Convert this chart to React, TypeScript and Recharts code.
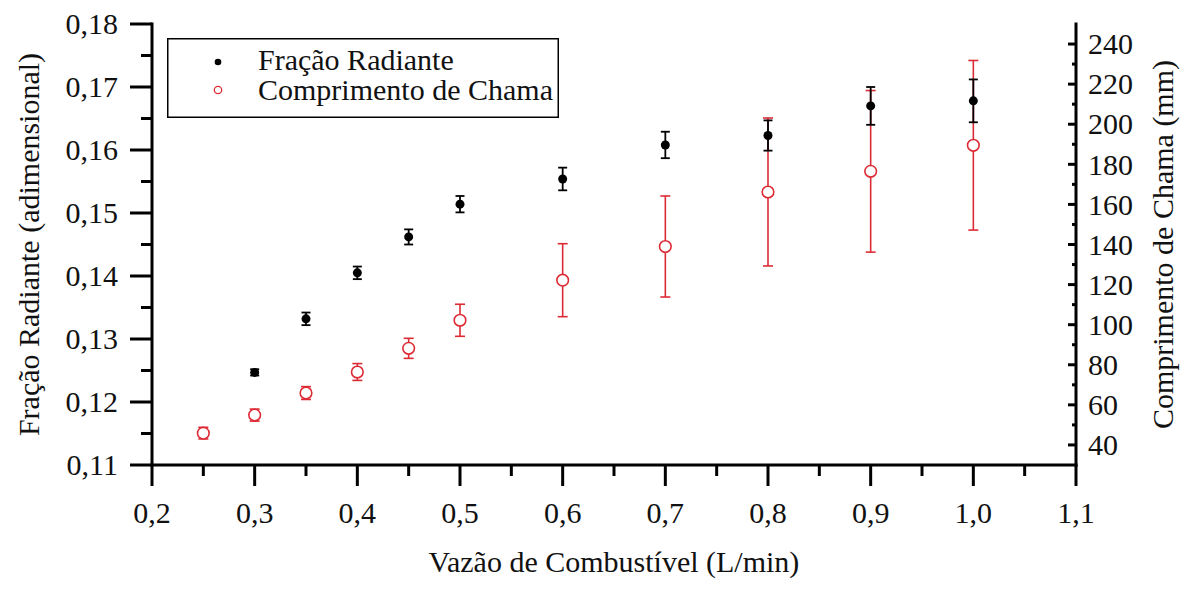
import { ComposedChart, Scatter, XAxis, YAxis, ErrorBar, Legend, Label } from 'recharts';

// Fração radiante (eixo esquerdo)
const vazaoFracao = [0.3, 0.35, 0.4, 0.45, 0.5, 0.6, 0.7, 0.8, 0.9, 1.0];
const fracaoRadiante = [0.1247, 0.1332, 0.1405, 0.1462, 0.1514, 0.1554, 0.1608, 0.1623, 0.167, 0.1678];
const fracaoErro = [0.0005, 0.001, 0.001, 0.0012, 0.0013, 0.0018, 0.0021, 0.0024, 0.003, 0.0034];

// Comprimento de chama (eixo direito)
const vazaoChama = [0.25, 0.3, 0.35, 0.4, 0.45, 0.5, 0.6, 0.7, 0.8, 0.9, 1.0];
const comprimentoChama = [45.9, 54.9, 65.9, 76.4, 88.2, 102.2, 122.2, 139, 166.2, 176.5, 189.5];
const chamaErro = [2.9, 3, 3.2, 4.2, 5, 8, 18.2, 25.2, 36.9, 40.3, 42.3];

const seriesNames = ['Fração Radiante', 'Comprimento de Chama'];

const xMajor = [0.2, 0.3, 0.4, 0.5, 0.6, 0.7, 0.8, 0.9, 1.0, 1.1];
const xMinor = [0.25, 0.35, 0.45, 0.55, 0.65, 0.75, 0.85, 0.95, 1.05];
const leftMajor = [0.11, 0.12, 0.13, 0.14, 0.15, 0.16, 0.17, 0.18];
const leftMinor = [0.115, 0.125, 0.135, 0.145, 0.155, 0.165, 0.175];
const rightMajor = [40, 60, 80, 100, 120, 140, 160, 180, 200, 220, 240];
const rightMinor = [50, 70, 90, 110, 130, 150, 170, 190, 210, 230];

const FONT = "'Liberation Serif', 'Times New Roman', serif";
const RED = '#dd2b35';
const FS = 30;

const fracaoData = vazaoFracao.map((x, i) => ({ x, y: fracaoRadiante[i], err: fracaoErro[i] }));
const chamaData = vazaoChama.map((x, i) => ({ x, y: comprimentoChama[i], err: chamaErro[i] }));

const sortTicks = (a: number[], b: number[]) => [...a, ...b].sort((p, q) => p - q);
const isMajor = (list: number[], v: number) => list.some((m) => Math.abs(m - v) < 1e-9);

const comma = (digits: number) => (v: number) => v.toFixed(digits).replace('.', ',');

function LeftTick(props: any) {
  const { x, y, payload } = props;
  const major = isMajor(leftMajor, payload.value);
  return (
    <g>
      <line x1={x} y1={y} x2={x - (major ? 22 : 11)} y2={y} stroke='#000' strokeWidth={3} />
      {major && (
        <text x={x - 34} y={y} dy='0.34em' textAnchor='end' fontFamily={FONT} fontSize={FS} fill='#111'>
          {comma(2)(payload.value)}
        </text>
      )}
    </g>
  );
}

function RightTick(props: any) {
  const { x, y, payload } = props;
  const major = isMajor(rightMajor, payload.value);
  return (
    <g>
      <line x1={x} y1={y} x2={x - (major ? 8 : 4)} y2={y} stroke='#000' strokeWidth={3} />
      {major && (
        <text x={x + 12} y={y} dy='0.34em' textAnchor='start' fontFamily={FONT} fontSize={FS} fill='#111'>
          {payload.value}
        </text>
      )}
    </g>
  );
}

function BottomTick(props: any) {
  const { x, y, payload } = props;
  const major = isMajor(xMajor, payload.value);
  return (
    <g>
      <line x1={x} y1={y} x2={x} y2={y + (major ? 21 : 11)} stroke='#000' strokeWidth={3} />
      {major && (
        <text x={x} y={y + 58} textAnchor='middle' fontFamily={FONT} fontSize={FS} fill='#111'>
          {comma(1)(payload.value)}
        </text>
      )}
    </g>
  );
}

const DotShape = (p: any) => <circle cx={p.cx} cy={p.cy} r={4.5} fill='#000' />;
const RingShape = (p: any) => (
  <circle cx={p.cx} cy={p.cy} r={5.8} fill='#fff' stroke={RED} strokeWidth={1.6} />
);

function rotatedTitle(text: string, dxFromAxis: number) {
  return (p: any) => {
    const vb = p.viewBox || { x: 0, y: 24, width: 152, height: 441 };
    const cx = vb.x + dxFromAxis;
    const cy = vb.y + vb.height / 2;
    return (
      <text
        x={cx}
        y={cy}
        textAnchor='middle'
        dominantBaseline='central'
        transform={`rotate(-90, ${cx}, ${cy})`}
        fontFamily={FONT}
        fontSize={FS}
        fill='#111'
      >
        {text}
      </text>
    );
  };
}

const bottomTitle = (p: any) => {
  const vb = p.viewBox || { x: 152, y: 465, width: 924, height: 125 };
  return (
    <text x={vb.x + vb.width / 2} y={vb.y + 107} textAnchor='middle' fontFamily={FONT} fontSize={FS} fill='#111'>
      Vazão de Combustível (L/min)
    </text>
  );
};

const renderLegend = () => (
  <svg width={392} height={80} style={{ display: 'block' }}>
    <rect x={0.75} y={0.75} width={390.5} height={78.5} fill='#fff' stroke='#000' strokeWidth={1.5} />
    <circle cx={51} cy={24} r={3.3} fill='#000' />
    <circle cx={51} cy={52} r={3.7} fill='#fff' stroke={RED} strokeWidth={1.3} />
    <text x={91} y={32} fontFamily={FONT} fontSize={FS} fill='#111'>
      {seriesNames[0]}
    </text>
    <text x={91} y={62} fontFamily={FONT} fontSize={FS} fill='#111'>
      {seriesNames[1]}
    </text>
  </svg>
);

export default function App() {
  return (
    <div style={{ position: 'absolute', left: 0, top: 0, background: '#fff' }}>
      <ComposedChart width={1184} height={590} margin={{ top: 24, right: 0, bottom: 0, left: 0 }}>
        <XAxis
          xAxisId='x'
          dataKey='x'
          type='number'
          domain={[0.2, 1.1]}
          ticks={sortTicks(xMajor, xMinor)}
          interval={0}
          height={125}
          tickSize={0}
          tickMargin={0}
          tick={BottomTick}
          axisLine={{ stroke: '#000', strokeWidth: 3, strokeLinecap: 'square' }}
          allowDataOverflow
        >
          <Label content={bottomTitle} />
        </XAxis>
        <XAxis
          xAxisId='top'
          orientation='top'
          type='number'
          domain={[0.2, 1.1]}
          height={0}
          tick={false}
          tickLine={false}
          axisLine={{ stroke: '#000', strokeWidth: 3, strokeLinecap: 'square' }}
        />
        <YAxis
          yAxisId='left'
          type='number'
          domain={[0.11, 0.18]}
          ticks={sortTicks(leftMajor, leftMinor)}
          interval={0}
          width={152}
          tickSize={0}
          tickMargin={0}
          tick={LeftTick}
          axisLine={{ stroke: '#000', strokeWidth: 3, strokeLinecap: 'square' }}
          allowDataOverflow
        >
          <Label content={rotatedTitle('Fração Radiante (adimensional)', 28)} />
        </YAxis>
        <YAxis
          yAxisId='right'
          orientation='right'
          type='number'
          domain={[30, 250]}
          ticks={sortTicks(rightMajor, rightMinor)}
          interval={0}
          width={108}
          tickSize={0}
          tickMargin={0}
          tick={RightTick}
          axisLine={{ stroke: '#000', strokeWidth: 3, strokeLinecap: 'square' }}
          allowDataOverflow
        >
          <Label content={rotatedTitle('Comprimento de Chama (mm)', 86)} />
        </YAxis>
        <Legend
          layout='vertical'
          align='center'
          verticalAlign='middle'
          content={renderLegend}
          wrapperStyle={{ left: 167, top: 38, width: 392, height: 80 }}
        />
        <Scatter
          name={seriesNames[1]}
          data={chamaData}
          dataKey='y'
          xAxisId='x'
          yAxisId='right'
          shape={RingShape}
          isAnimationActive={false}
        >
          <ErrorBar dataKey='err' direction='y' width={5} stroke={RED} strokeWidth={1.6} isAnimationActive={false} />
        </Scatter>
        <Scatter
          name={seriesNames[0]}
          data={fracaoData}
          dataKey='y'
          xAxisId='x'
          yAxisId='left'
          shape={DotShape}
          isAnimationActive={false}
        >
          <ErrorBar dataKey='err' direction='y' width={4.5} stroke='#000' strokeWidth={1.8} isAnimationActive={false} />
        </Scatter>
      </ComposedChart>
    </div>
  );
}
